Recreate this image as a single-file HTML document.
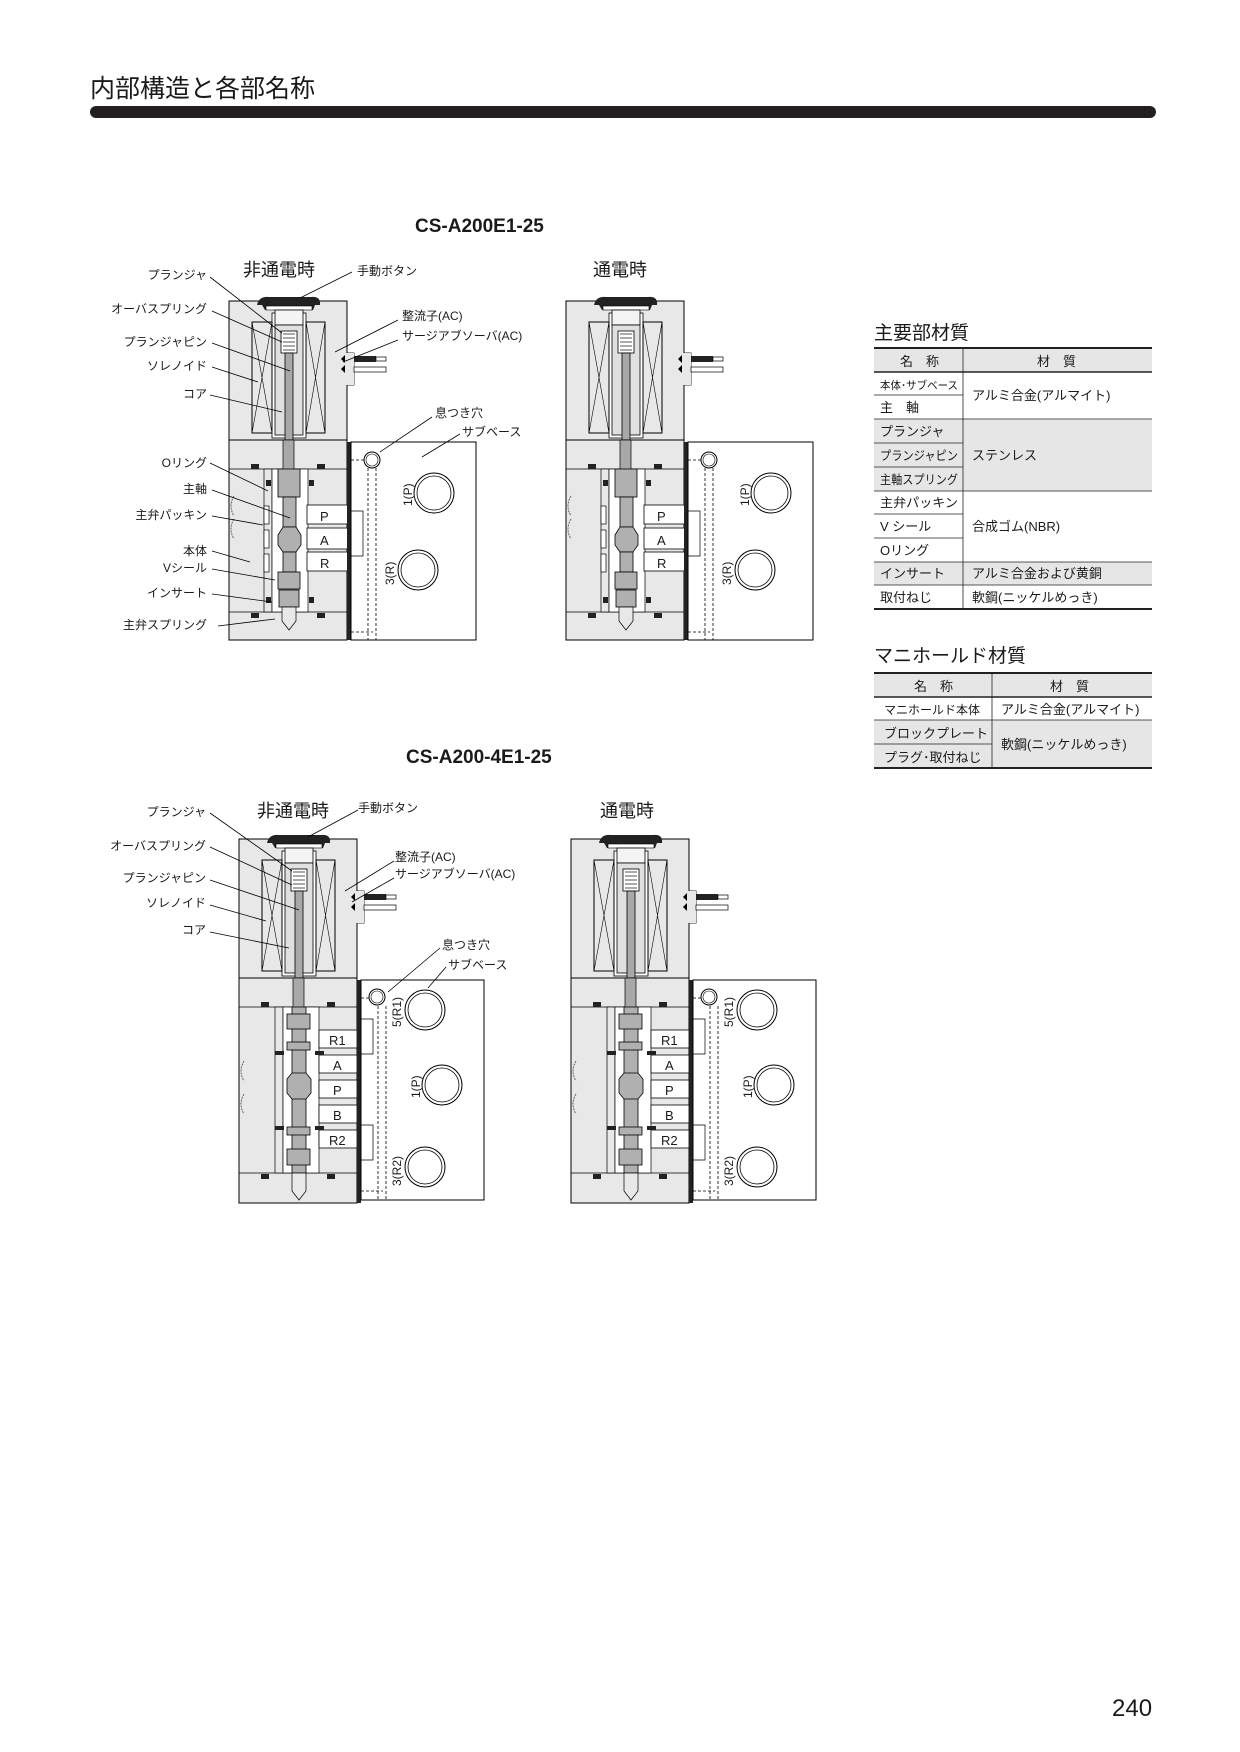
<!DOCTYPE html>
<html><head><meta charset="utf-8"><style>
html,body{margin:0;padding:0;background:#fff;}
svg{display:block;}
text{font-family:"Liberation Sans","Noto Sans CJK JP",sans-serif;fill:#1a1a1a;}
</style></head><body>
<svg width="1240" height="1752" viewBox="0 0 1240 1752" xmlns="http://www.w3.org/2000/svg">
<defs>
<g id="top">
  <rect x="0" y="0" width="118" height="139" fill="#e8e8e8" stroke="#000" stroke-width="1"/>
  <path d="M28 4 Q30 -5 40 -4 L82 -4 Q92 -5 91 4 L86 4 L84 9 L36 9 L33 4 Z" fill="#222"/>
  <rect x="37" y="5" width="46" height="4" fill="#fff" stroke="#000" stroke-width="0.6"/>
  <rect x="43" y="12" width="34" height="125" fill="#fff" stroke="#000" stroke-width="0.8"/>
  <rect x="46" y="9" width="28" height="15" fill="#f4f4f4" stroke="#000" stroke-width="0.8"/>
  <rect x="46" y="24" width="28" height="110" fill="#e0e0e0" stroke="#000" stroke-width="0.8"/>
  <rect x="52" y="30" width="16" height="22" fill="#fff" stroke="#000" stroke-width="0.8"/>
  <path d="M54 33 h12 M54 37 h12 M54 41 h12 M54 45 h12 M54 49 h12" stroke="#555" stroke-width="1"/>
  <rect x="56" y="52" width="8" height="115" fill="#a8a8a8" stroke="#000" stroke-width="0.8"/>
  <rect x="23" y="21" width="20" height="111" fill="#e8e8e8" stroke="#000" stroke-width="1"/>
  <path d="M23 21 L43 132 M43 21 L23 132" stroke="#000" stroke-width="0.6"/>
  <rect x="77" y="21" width="19" height="111" fill="#e8e8e8" stroke="#000" stroke-width="1"/>
  <path d="M77 21 L96 132 M96 21 L77 132" stroke="#000" stroke-width="0.6"/>
  <rect x="118" y="52" width="7" height="32" fill="#e8e8e8" stroke="#000" stroke-width="0.8"/>
  <rect x="108" y="52" width="17" height="32" fill="#e8e8e8" stroke="none"/>
  <path d="M112 58 l4 -4 v8 z M112 68 l4 4 v-8 z" fill="#000"/>
  <rect x="125" y="55" width="22" height="6" fill="#222"/>
  <rect x="147" y="56" width="10" height="4" fill="#fff" stroke="#000" stroke-width="0.7"/>
  <rect x="125" y="66" width="32" height="5" fill="#fff" stroke="#000" stroke-width="0.7"/>
  <rect x="22" y="140" width="8" height="5" fill="#222"/><rect x="88" y="140" width="8" height="5" fill="#222"/>
  <rect x="38" y="140" width="10" height="4" fill="#222"/><rect x="72" y="140" width="10" height="4" fill="#222"/>
</g>
</defs>

<text x="90" y="97" font-size="25">内部構造と各部名称</text>
<rect x="90" y="106" width="1066" height="12" rx="6" fill="#231f20"/>

<text x="415" y="232" font-size="19" font-weight="bold">CS-A200E1-25</text>
<text x="243" y="276" font-size="18">非通電時</text>
<text x="593" y="276" font-size="18">通電時</text>

<g id="v1">
<g transform="translate(229,301)">
  <use href="#top"/>
  <rect x="0" y="139" width="118" height="200" fill="#e8e8e8" stroke="#000"/>
  <line x1="0" y1="168" x2="118" y2="168" stroke="#000" stroke-width="0.7"/>
  <line x1="0" y1="311" x2="118" y2="311" stroke="#000" stroke-width="0.7"/>
  <rect x="35" y="168" width="8" height="143" fill="#e8e8e8" stroke="#000" stroke-width="0.7"/>
  <rect x="43" y="168" width="36" height="143" fill="#fff" stroke="#000" stroke-width="0.7"/>
  <rect x="54" y="139" width="11" height="30" fill="#a8a8a8" stroke="#000" stroke-width="0.7"/>
  <rect x="49" y="168" width="22" height="28" fill="#b0b0b0" stroke="#000" stroke-width="0.8"/>
  <rect x="54" y="196" width="13" height="30" fill="#b0b0b0" stroke="#000" stroke-width="0.8"/>
  <path d="M49 234 L54 226 L67 226 L72 234 L72 244 L67 251 L54 251 L49 244 Z" fill="#b0b0b0" stroke="#000" stroke-width="0.8"/>
  <rect x="54" y="251" width="13" height="20" fill="#b0b0b0" stroke="#000" stroke-width="0.8"/>
  <rect x="49" y="271" width="22" height="17" fill="#b0b0b0" stroke="#000" stroke-width="0.8"/>
  <rect x="50" y="289" width="20" height="17" fill="#b0b0b0" stroke="#000" stroke-width="0.8"/>
  <path d="M53 306 h14 v14 l-7 9 l-7 -9 z" fill="#e8e8e8" stroke="#000" stroke-width="0.7"/>
  <rect x="78" y="204" width="41" height="19" fill="#fff" stroke="#000" stroke-width="0.8"/>
  <rect x="78" y="227" width="41" height="21" fill="#fff" stroke="#000" stroke-width="0.8"/>
  <rect x="78" y="251" width="41" height="19" fill="#fff" stroke="#000" stroke-width="0.8"/>
  <text x="91" y="220" font-size="13">P</text><text x="91" y="244" font-size="13">A</text><text x="91" y="267" font-size="13">R</text>
  <rect x="35" y="205" width="5" height="18" fill="#fff" stroke="#000" stroke-width="0.7"/>
  <rect x="35" y="229" width="5" height="18" fill="#fff" stroke="#000" stroke-width="0.7"/>
  <rect x="35" y="253" width="5" height="18" fill="#fff" stroke="#000" stroke-width="0.7"/>
  <rect x="22" y="163" width="8" height="5" fill="#222"/><rect x="88" y="163" width="8" height="5" fill="#222"/>
  <rect x="22" y="312" width="8" height="5" fill="#222"/><rect x="88" y="312" width="8" height="5" fill="#222"/>
  <rect x="37" y="179" width="5" height="6" fill="#222"/><rect x="80" y="179" width="5" height="6" fill="#222"/>
  <rect x="37" y="296" width="5" height="6" fill="#222"/><rect x="80" y="296" width="5" height="6" fill="#222"/>
  <path d="M5 195 q-6 10 0 20 M5 218 q-6 10 0 20" stroke="#666" fill="none" stroke-dasharray="2 1"/>
  <rect x="118" y="141" width="4" height="198" fill="#222"/>
  <rect x="122" y="141" width="125" height="198" fill="#fff" stroke="#000"/>
  <path d="M122 159 h14 M122 331 h22 M139 167 V339 M147 167 V339" stroke="#000" stroke-width="0.8" stroke-dasharray="3 2"/>
  <circle cx="143" cy="159" r="8" fill="#fff" stroke="#000" stroke-width="1"/>
  <circle cx="143" cy="159" r="6" fill="none" stroke="#000" stroke-width="0.6"/>
  <circle cx="205" cy="192" r="20" fill="none" stroke="#000" stroke-width="1"/><circle cx="205" cy="192" r="17" fill="none" stroke="#000" stroke-width="0.8"/>
  <circle cx="189" cy="269" r="20" fill="none" stroke="#000" stroke-width="1"/><circle cx="189" cy="269" r="17" fill="none" stroke="#000" stroke-width="0.8"/>
  <text transform="translate(183,205) rotate(-90)" font-size="12">1(P)</text>
  <text transform="translate(165,284) rotate(-90)" font-size="12">3(R)</text>
  <path d="M122 210 h12 v45 h-12" fill="none" stroke="#000" stroke-width="0.7"/>
</g>
</g>
<use href="#v1" transform="translate(337,0)"/>

<g font-size="12" text-anchor="end">
<text x="207" y="279">プランジャ</text>
<text x="207" y="313">オーバスプリング</text>
<text x="207" y="346">プランジャピン</text>
<text x="207" y="370">ソレノイド</text>
<text x="207" y="398">コア</text>
<text x="207" y="467">Oリング</text>
<text x="207" y="493">主軸</text>
<text x="207" y="519">主弁パッキン</text>
<text x="207" y="555">本体</text>
<text x="207" y="572">Vシール</text>
<text x="207" y="597">インサート</text>
<text x="207" y="629">主弁スプリング</text>
</g>
<g stroke="#000" stroke-width="0.8">
<line x1="210" y1="277" x2="282" y2="333"/><line x1="212" y1="311" x2="282" y2="342"/>
<line x1="212" y1="343" x2="290" y2="371"/><line x1="212" y1="367" x2="258" y2="382"/>
<line x1="210" y1="395" x2="282" y2="412"/><line x1="210" y1="463" x2="268" y2="491"/>
<line x1="212" y1="490" x2="290" y2="518"/><line x1="212" y1="516" x2="263" y2="525"/>
<line x1="212" y1="551" x2="250" y2="562"/><line x1="212" y1="569" x2="275" y2="580"/>
<line x1="212" y1="594" x2="272" y2="602"/><line x1="218" y1="626" x2="275" y2="619"/>
<line x1="352" y1="272" x2="300" y2="298"/><line x1="398" y1="320" x2="335" y2="352"/>
<line x1="398" y1="340" x2="343" y2="362"/><line x1="432" y1="417" x2="380" y2="452"/>
<line x1="460" y1="434" x2="422" y2="457"/>
</g>
<g font-size="12">
<text x="357" y="275">手動ボタン</text>
<text x="402" y="320">整流子(AC)</text>
<text x="402" y="340">サージアブソーバ(AC)</text>
<text x="435" y="417">息つき穴</text>
<text x="462" y="436">サブベース</text>
</g>

<text x="406" y="763" font-size="19" font-weight="bold">CS-A200-4E1-25</text>
<text x="257" y="817" font-size="18">非通電時</text>
<text x="600" y="817" font-size="18">通電時</text>

<g id="v2">
<g transform="translate(239,839)">
  <use href="#top"/>
  <rect x="0" y="139" width="118" height="225" fill="#e8e8e8" stroke="#000"/>
  <line x1="0" y1="168" x2="118" y2="168" stroke="#000" stroke-width="0.7"/>
  <line x1="0" y1="334" x2="118" y2="334" stroke="#000" stroke-width="0.7"/>
  <rect x="36" y="168" width="8" height="166" fill="#e8e8e8" stroke="#000" stroke-width="0.7"/>
  <rect x="44" y="168" width="36" height="166" fill="#fff" stroke="#000" stroke-width="0.7"/>
  <rect x="54" y="139" width="11" height="30" fill="#a8a8a8" stroke="#000" stroke-width="0.7"/>
  <rect x="53" y="168" width="14" height="166" fill="#b0b0b0" stroke="#000" stroke-width="0.8"/>
  <rect x="48" y="175" width="23" height="15" fill="#b0b0b0" stroke="#000" stroke-width="0.8"/>
  <rect x="48" y="203" width="23" height="8" fill="#b0b0b0" stroke="#000" stroke-width="0.8"/>
  <path d="M48 240 L53 234 L67 234 L72 240 L72 254 L67 260 L53 260 L48 254 Z" fill="#b0b0b0" stroke="#000" stroke-width="0.8"/>
  <rect x="48" y="288" width="23" height="8" fill="#b0b0b0" stroke="#000" stroke-width="0.8"/>
  <rect x="48" y="310" width="23" height="16" fill="#b0b0b0" stroke="#000" stroke-width="0.8"/>
  <path d="M53 334 h14 v18 l-7 9 l-7 -9 z" fill="#e8e8e8" stroke="#000" stroke-width="0.7"/>
  <g fill="#fff" stroke="#000" stroke-width="0.8">
  <rect x="80" y="191" width="38" height="18"/><rect x="80" y="216" width="38" height="18"/>
  <rect x="80" y="241" width="38" height="18"/><rect x="80" y="266" width="38" height="18"/>
  <rect x="80" y="291" width="38" height="18"/></g>
  <g font-size="13"><text x="90" y="206">R1</text><text x="94" y="231">A</text><text x="94" y="256">P</text><text x="94" y="281">B</text><text x="90" y="306">R2</text></g>
  <rect x="22" y="163" width="8" height="5" fill="#222"/><rect x="88" y="163" width="8" height="5" fill="#222"/>
  <rect x="22" y="335" width="8" height="5" fill="#222"/><rect x="88" y="335" width="8" height="5" fill="#222"/>
  <rect x="36" y="212" width="9" height="4" fill="#222"/><rect x="76" y="212" width="9" height="4" fill="#222"/>
  <rect x="36" y="287" width="9" height="4" fill="#222"/><rect x="76" y="287" width="9" height="4" fill="#222"/>
  <path d="M5 222 q-6 10 0 20 M5 255 q-6 10 0 20" stroke="#666" fill="none" stroke-dasharray="2 1"/>
  <rect x="118" y="141" width="4" height="223" fill="#222"/>
  <rect x="122" y="141" width="123" height="220" fill="#fff" stroke="#000"/>
  <path d="M122 159 h14 M122 352 h22 M139 167 V361 M147 167 V361" stroke="#000" stroke-width="0.8" stroke-dasharray="3 2"/>
  <circle cx="138" cy="158" r="8" fill="#fff" stroke="#000" stroke-width="1"/>
  <circle cx="138" cy="158" r="6" fill="none" stroke="#000" stroke-width="0.6"/>
  <circle cx="186" cy="171" r="20" fill="none" stroke="#000" stroke-width="1"/><circle cx="186" cy="171" r="17" fill="none" stroke="#000" stroke-width="0.8"/>
  <circle cx="203" cy="246" r="20" fill="none" stroke="#000" stroke-width="1"/><circle cx="203" cy="246" r="17" fill="none" stroke="#000" stroke-width="0.8"/>
  <circle cx="186" cy="328" r="20" fill="none" stroke="#000" stroke-width="1"/><circle cx="186" cy="328" r="17" fill="none" stroke="#000" stroke-width="0.8"/>
  <text transform="translate(162,188) rotate(-90)" font-size="12">5(R1)</text>
  <text transform="translate(181,259) rotate(-90)" font-size="12">1(P)</text>
  <text transform="translate(162,347) rotate(-90)" font-size="12">3(R2)</text>
  <path d="M122 180 h12 v35 h-12 M122 286 h12 v35 h-12" fill="none" stroke="#000" stroke-width="0.7"/>
</g>
</g>
<use href="#v2" transform="translate(332,0)"/>

<g font-size="12" text-anchor="end">
<text x="206" y="816">プランジャ</text>
<text x="206" y="850">オーバスプリング</text>
<text x="206" y="882">プランジャピン</text>
<text x="206" y="907">ソレノイド</text>
<text x="206" y="934">コア</text>
</g>
<g stroke="#000" stroke-width="0.8">
<line x1="210" y1="813" x2="292" y2="871"/><line x1="210" y1="847" x2="292" y2="885"/>
<line x1="210" y1="880" x2="299" y2="910"/><line x1="210" y1="905" x2="266" y2="921"/>
<line x1="210" y1="932" x2="289" y2="948"/>
<line x1="358" y1="810" x2="308" y2="837"/><line x1="394" y1="861" x2="345" y2="891"/>
<line x1="394" y1="878" x2="352" y2="902"/><line x1="440" y1="948" x2="388" y2="992"/>
<line x1="446" y1="967" x2="428" y2="988"/>
</g>
<g font-size="12">
<text x="358" y="812">手動ボタン</text>
<text x="395" y="861">整流子(AC)</text>
<text x="395" y="878">サージアブソーバ(AC)</text>
<text x="442" y="949">息つき穴</text>
<text x="448" y="969">サブベース</text>
</g>

<text x="874" y="339" font-size="19">主要部材質</text>
<g>
<rect x="874" y="348" width="278" height="24" fill="#e6e6e6"/>
<rect x="874" y="419" width="278" height="72" fill="#e6e6e6"/>
<rect x="874" y="562" width="278" height="23" fill="#e6e6e6"/>
<g stroke="#222">
<line x1="874" y1="348" x2="1152" y2="348" stroke-width="2"/>
<line x1="874" y1="372" x2="1152" y2="372" stroke-width="1.6"/>
<line x1="874" y1="609" x2="1152" y2="609" stroke-width="2"/>
<line x1="963" y1="348" x2="963" y2="609" stroke-width="0.8"/>
<g stroke-width="0.8">
<line x1="874" y1="395" x2="963" y2="395"/>
<line x1="874" y1="419" x2="1152" y2="419"/>
<line x1="874" y1="443" x2="963" y2="443"/>
<line x1="874" y1="467" x2="963" y2="467"/>
<line x1="874" y1="491" x2="1152" y2="491"/>
<line x1="874" y1="514" x2="963" y2="514"/>
<line x1="874" y1="538" x2="963" y2="538"/>
<line x1="874" y1="562" x2="1152" y2="562"/>
<line x1="874" y1="585" x2="1152" y2="585"/>
</g></g>
<g font-size="13">
<text x="900" y="366">名　称</text><text x="1037" y="366">材　質</text>
<text x="880" y="389" font-size="11" textLength="78" lengthAdjust="spacingAndGlyphs">本体･サブベース</text>
<text x="880" y="412">主　軸</text>
<text x="880" y="436">プランジャ</text>
<text x="880" y="460" font-size="12.5" textLength="78" lengthAdjust="spacingAndGlyphs">プランジャピン</text>
<text x="880" y="484" font-size="12.5" textLength="78" lengthAdjust="spacingAndGlyphs">主軸スプリング</text>
<text x="880" y="507" font-size="12.5" textLength="78" lengthAdjust="spacingAndGlyphs">主弁パッキン</text>
<text x="880" y="531">V シール</text>
<text x="880" y="555">Oリング</text>
<text x="880" y="578">インサート</text>
<text x="880" y="602">取付ねじ</text>
<text x="972" y="400">アルミ合金(アルマイト)</text>
<text x="972" y="460">ステンレス</text>
<text x="972" y="531">合成ゴム(NBR)</text>
<text x="972" y="578">アルミ合金および黄銅</text>
<text x="972" y="602">軟鋼(ニッケルめっき)</text>
</g>
</g>

<text x="874" y="662" font-size="19">マニホールド材質</text>
<rect x="874" y="673" width="278" height="24" fill="#e6e6e6"/>
<rect x="874" y="720" width="278" height="48" fill="#e6e6e6"/>
<g stroke="#222">
<line x1="874" y1="673" x2="1152" y2="673" stroke-width="2"/>
<line x1="874" y1="697" x2="1152" y2="697" stroke-width="1.6"/>
<line x1="874" y1="768" x2="1152" y2="768" stroke-width="2"/>
<line x1="992" y1="673" x2="992" y2="768" stroke-width="0.8"/>
<line x1="874" y1="720" x2="1152" y2="720" stroke-width="0.8"/>
<line x1="874" y1="744" x2="992" y2="744" stroke-width="0.8"/>
</g>
<g font-size="13">
<text x="914" y="691">名　称</text><text x="1050" y="691">材　質</text>
<text x="884" y="714" font-size="12">マニホールド本体</text>
<text x="884" y="738">ブロックプレート</text>
<text x="884" y="762">プラグ･取付ねじ</text>
<text x="1001" y="714">アルミ合金(アルマイト)</text>
<text x="1001" y="749">軟鋼(ニッケルめっき)</text>
</g>

<text x="1112" y="1716" font-size="24">240</text>
</svg>
</body></html>
